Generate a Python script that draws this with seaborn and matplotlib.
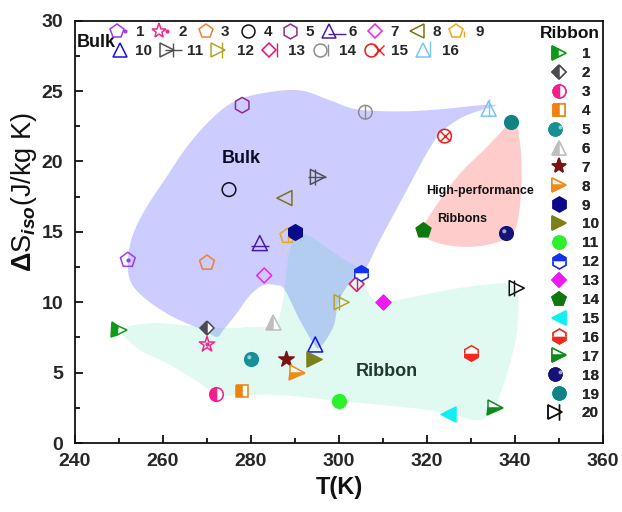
import numpy as np
import matplotlib
matplotlib.use("Agg")
import matplotlib.pyplot as plt
from matplotlib.lines import Line2D
from matplotlib.path import Path
from matplotlib.legend_handler import HandlerTuple
from matplotlib.ticker import MultipleLocator
import seaborn as sns

sns.set_theme(style="ticks")
plt.rcParams["font.family"] = ["Liberation Sans", "DejaVu Sans"]
plt.rcParams["font.weight"] = "bold"
plt.rcParams["mathtext.fontset"] = "custom"
plt.rcParams["mathtext.rm"] = "Liberation Sans:bold"
plt.rcParams["mathtext.it"] = "Liberation Sans:italic:bold"
plt.rcParams["mathtext.bf"] = "Liberation Sans:bold"

# ---------------- bulk alloys ----------------
bulk_labels = [str(i) for i in range(1, 17)]
bulk_T = [252, 270, 270, 275, 278, 282, 283, 287.6, 288.3, 294.6, 295.2, 300.6, 304, 306, 324, 334]
bulk_S = [13.0, 7.0, 12.8, 18.0, 24.0, 14.2, 11.9, 17.4, 14.7, 7.0, 18.9, 10.0, 11.3, 23.5, 21.8, 23.75]
bulk_markers = ["p", "*", "p", "o", "h", "^", "D", "<", "p", "^", ">", ">", "D", "o", "o", "^"]
bulk_colors = ["#9B3BF5", "#F0288C", "#EE8032", "#111111", "#8C2A96", "#4A1AA6", "#F020F0", "#7C7418",
               "#E8A818", "#1010F0", "#505050", "#B4A42A", "#E8106A", "#8C8C8C", "#F01818", "#78C4F4"]
bulk_inner = ["dot", "dot", None, None, None, "hbar", None, None, "stem", None,
              "cross_left", "bar_left", "vbar", "vbar", "x", "mast"]

# ---------------- melt-spun ribbons ----------------
ribbon_labels = [str(i) for i in range(1, 21)]
ribbon_T = [250, 270, 272, 278, 280, 285, 288, 290.4, 290, 294.3, 300, 305, 310, 319, 324.7, 330, 335.5, 338, 339, 340.4]
ribbon_S = [8.0, 8.2, 3.5, 3.7, 6.0, 8.6, 6.0, 5.0, 15.0, 6.0, 3.0, 12.1, 10.0, 15.1, 2.05, 6.4, 2.5, 14.9, 22.8, 11.0]
ribbon_markers = [">", "D", "o", "s", "o", "^", "*", ">", "h", ">", "o", "h", "D", "p", "<", "h", ">", "o", "o", ">"]
ribbon_fills = ["left", "left", "left", "left", "sphere", "left", "full", "bottom", "full", "full",
                "full", "top", "full", "full", "full", "bottom", "bottom", "sphere", "full", "none"]
ribbon_colors = ["#0E9A18", "#4A4A52", "#F0208C", "#F08010", "#178F94", "#BEBEBE", "#7A1414", "#F08A18",
                 "#0A0A8A", "#7C8018", "#2CF02C", "#1430F0", "#F018F0", "#0E780E", "#10F0F0", "#F02A1C",
                 "#0E8A1A", "#141478", "#108484", "#111111"]
ribbon_glints = {5: "#8FD6D6", 18: "#A49CDC"}
ribbon_inner = [None] * 19 + ["bar_left"]

# ---------------- shaded zones (outline nodes, T / dS) ----------------
bulk_zone_T = [282.8, 291.1, 297.95, 303.25, 309.3, 316.9, 324.5, 332.0, 335.8, 332.05, 327.5, 322.95,
               319.9, 315.4, 309.3, 306.3, 304.8, 301.75, 299.8, 298.7, 295.7, 294.2, 291.1, 287.7,
               285.8, 282.8, 279.8, 276.75, 273.7, 272.2, 269.2, 265.4, 260.8, 255.5, 252.5, 252.1,
               253.25, 256.3, 260.8, 265.4, 270.7, 276.0]
bulk_zone_S = [24.86, 25.05, 24.34, 23.75, 23.58, 23.58, 23.75, 23.99, 23.99, 23.63, 23.05, 21.98,
               20.56, 17.96, 14.41, 12.51, 12.04, 11.09, 9.91, 8.25, 6.81, 7.08, 8.73, 10.86,
               11.21, 11.21, 10.50, 9.21, 8.02, 7.54, 8.02, 8.50, 9.21, 10.38, 11.57, 13.22,
               14.88, 16.77, 18.90, 21.03, 22.92, 24.22]

ribbon_zone_T = [248.4, 257.0, 264.5, 268.4, 275.9, 279.8, 283.6, 285.8, 287.3, 288.2, 289.5, 291.1,
                 294.1, 300.2, 304.8, 306.4, 309.3, 316.8, 324.5, 332.05, 338.1, 340.4, 340.7, 339.5,
                 335.8, 332.05, 324.5, 316.8, 309.3, 301.75, 294.1, 286.6, 278.2, 272.2, 268.4, 260.8,
                 254.8, 250.2]
ribbon_zone_S = [8.02, 8.52, 8.37, 8.25, 8.16, 8.25, 8.25, 8.50, 10.15, 12.63, 14.41, 14.88,
                 14.55, 13.22, 12.28, 10.86, 10.03, 10.38, 10.86, 11.21, 11.33, 10.86, 8.73, 6.39,
                 2.84, 1.63, 2.13, 2.48, 2.70, 2.93, 3.19, 3.41, 3.41, 3.41, 4.26, 5.68,
                 6.60, 7.81]

hp_zone_T = [338.9, 333.6, 327.5, 322.95, 319.9, 318.4, 322.95, 329.0, 335.0, 339.5, 341.1, 341.5, 340.7, 339.5]
hp_zone_S = [22.80, 21.03, 19.14, 17.25, 15.83, 14.88, 14.17, 13.93, 14.17, 14.88, 16.77, 19.85, 22.21, 22.92]

SIZE = {"o": 9.8, "p": 11.2, "h": 11.2, "*": 11.6, "D": 7.6, "s": 8.4, "^": 10.8, ">": 10.8, "<": 10.8}


def smooth_closed(xs, ys, n=24):
    """Closed Catmull-Rom curve through the outline nodes."""
    pts = np.column_stack([xs, ys]).astype(float)
    N = len(pts)
    t = np.linspace(0, 1, n, endpoint=False)[:, None]
    out = []
    for i in range(N):
        p0, p1, p2, p3 = pts[(i - 1) % N], pts[i], pts[(i + 1) % N], pts[(i + 2) % N]
        out.append(0.5 * (2 * p1 + (-p0 + p2) * t + (2 * p0 - 5 * p1 + 4 * p2 - p3) * t ** 2
                          + (-p0 + 3 * p1 - 3 * p2 + p3) * t ** 3))
    pts = np.vstack(out)
    return pts[:, 0], pts[:, 1]


def line_path(segments, extent):
    verts, codes = [], []
    for (x0, y0), (x1, y1) in segments:
        verts += [(x0, y0), (x1, y1)]
        codes += [Path.MOVETO, Path.LINETO]
    verts += [(extent, extent), (-extent, -extent)]
    codes += [Path.MOVETO, Path.MOVETO]
    return Path(verts, codes)


_glint = Path.circle(center=(-0.32, 0.32), radius=0.3)
GLINT = Path(np.vstack([_glint.vertices, [[1, 1], [-1, -1]]]),
             np.concatenate([_glint.codes, [Path.MOVETO, Path.MOVETO]]))


def inner_style(kind, marker):
    base = SIZE[marker]
    if kind == "dot":
        return "o", 2.0, True
    if kind == "hbar":
        return line_path([((-1.25, -0.4), (1.25, -0.4))], 1.25), base * 1.25, False
    if kind == "stem":
        return line_path([((0, -0.8), (0, 0.05))], 1.0), base, False
    if kind == "cross_left":
        return line_path([((-1.35, 0), (1, 0)), ((-0.35, -1), (-0.35, 1))], 1.35), base * 1.35, False
    if kind == "bar_left":
        return line_path([((-0.4, -1.1), (-0.4, 1.1))], 1.1), base * 1.1, False
    if kind == "vbar":
        return "|", base * (1.41 if marker == "D" else 1.0), False
    if kind == "x":
        return "x", base * 0.72, False
    if kind == "mast":
        return line_path([((0, -1.0), (0, 1.3))], 1.3), base * 1.3, False
    return None


def make_lines(marker, color, fill, inner, glint, scale=1.0):
    size = SIZE[marker] * scale
    kw = dict(linestyle="none", marker=marker, markersize=size, markeredgecolor=color, mew=1.1)
    if fill in ("full", "sphere"):
        kw.update(markerfacecolor=color)
    elif fill == "none":
        kw.update(markerfacecolor="none")
    else:
        kw.update(fillstyle=fill, markerfacecolor=color, markerfacecoloralt="white")
    lines = [kw]
    if glint is not None:
        lines.append(dict(linestyle="none", marker=GLINT, markersize=size, markerfacecolor=glint,
                          markeredgecolor="none"))
    if inner is not None:
        m, s, filled = inner_style(inner, marker)
        lines.append(dict(linestyle="none", marker=m, markersize=s * scale,
                          markerfacecolor=color if filled else "none", markeredgecolor=color, mew=1.0))
    return lines


def draw_series(ax, t, s, marker, color, fill, inner, glint):
    specs = make_lines(marker, color, fill, inner, glint)
    base = specs[0]
    if fill in ("full", "none", "sphere"):
        sns.scatterplot(x=[t], y=[s], marker=marker, s=SIZE[marker] ** 2,
                        facecolor=(color if fill != "none" else "none"), edgecolor=color,
                        linewidth=1.1, ax=ax, zorder=4, legend=False)
    else:
        ax.plot([t], [s], zorder=4, **base)
    for extra in specs[1:]:
        ax.plot([t], [s], zorder=5, **extra)


def legend_handle(marker, color, fill, inner, glint):
    specs = make_lines(marker, color, fill, inner, glint, scale=0.95)
    lines = tuple(Line2D([], [], **k) for k in specs)
    return lines if len(lines) > 1 else lines[0]


fig = plt.figure(figsize=(6.22, 5.12), dpi=100)
ax = fig.add_axes([75 / 622, 1 - 443 / 512, 528 / 622, 422.3 / 512])
ax.set_facecolor("white")

# shaded zones
bx, by = smooth_closed(bulk_zone_T, bulk_zone_S)
ax.fill(bx, by, color="#CCCCFF", lw=0, zorder=1)
rx, ry = smooth_closed(ribbon_zone_T, ribbon_zone_S)
ax.fill(rx, ry, color=(5 / 255, 213 / 255, 147 / 255, 0.12), lw=0, zorder=2)
hx, hy = smooth_closed(hp_zone_T, hp_zone_S)
ax.fill(hx, hy, color="#FFCCCC", lw=0, zorder=1)

ax.text(277.7, 20.2, "Bulk", fontsize=13, fontweight="bold", color="#0B0B26", ha="center", va="center", zorder=3)
ax.text(310.8, 5.06, "Ribbon", fontsize=13, fontweight="bold", color="#1C3A2E", ha="center", va="center", zorder=3)
ax.text(332.0, 17.9, "High-performance", fontsize=9, fontweight="bold", color="#111111", ha="center", va="center", zorder=3)
ax.text(327.9, 15.92, "Ribbons", fontsize=9, fontweight="bold", color="#111111", ha="center", va="center", zorder=3)

bulk_handles = []
for i in range(len(bulk_T)):
    draw_series(ax, bulk_T[i], bulk_S[i], bulk_markers[i], bulk_colors[i], "none", bulk_inner[i], None)
    bulk_handles.append(legend_handle(bulk_markers[i], bulk_colors[i], "none", bulk_inner[i], None))

ribbon_handles = []
for i in range(len(ribbon_T)):
    g = ribbon_glints.get(i + 1)
    draw_series(ax, ribbon_T[i], ribbon_S[i], ribbon_markers[i], ribbon_colors[i], ribbon_fills[i], ribbon_inner[i], g)
    ribbon_handles.append(legend_handle(ribbon_markers[i], ribbon_colors[i], ribbon_fills[i], ribbon_inner[i], g))

# axes styling
ax.set_xlim(240, 360)
ax.set_ylim(0, 30)
ax.xaxis.set_major_locator(MultipleLocator(20))
ax.xaxis.set_minor_locator(MultipleLocator(10))
ax.yaxis.set_major_locator(MultipleLocator(5))
ax.yaxis.set_minor_locator(MultipleLocator(2.5))
ax.tick_params(which="both", direction="in", top=False, right=False, color="#111111", width=1.3)
ax.tick_params(which="major", length=6, labelsize=14)
ax.tick_params(which="minor", length=3.5)
ax.tick_params(axis="x", which="major", pad=7)
ax.tick_params(axis="y", which="major", pad=8.5)
for lab in ax.get_xticklabels() + ax.get_yticklabels():
    lab.set_fontweight("bold")
for sp in ax.spines.values():
    sp.set_color("#111111")
    sp.set_linewidth(1.3)
ax.grid(False)

ax.set_xlabel("T(K)", fontsize=17, fontweight="bold", color="#111111")
ax.set_ylabel(r"$\mathit{\Delta}$S$_{\mathit{iso}}$(J/kg K)", fontsize=19.5, color="#111111")
ax.xaxis.set_label_coords(0.5, -0.078)
ax.yaxis.set_label_coords(-0.069, 0.595)

# bulk legend: one legend per row across the top
leg_kw = dict(frameon=False, prop={"weight": "bold", "size": 11}, handlelength=1.0,
              handletextpad=0.5, borderpad=0.0, borderaxespad=0.0,
              handler_map={tuple: HandlerTuple(ndivide=None)})
row1 = list(range(0, 9))
row2 = list(range(9, 16))
leg_top = ax.legend([bulk_handles[k] for k in row1], [bulk_labels[k] for k in row1], ncol=9,
                    loc="center left", bbox_to_anchor=(0.0722, (443 - 32) / 422.3), columnspacing=0.72, **leg_kw)
ax.add_artist(leg_top)
leg_mid = ax.legend([bulk_handles[k] for k in row2], [bulk_labels[k] for k in row2], ncol=7,
                    loc="center left", bbox_to_anchor=(0.0708, (443 - 51) / 422.3), columnspacing=0.74, **leg_kw)
ax.add_artist(leg_mid)
ax.text(0.04, 0.948, "Bulk", transform=ax.transAxes, fontsize=13, fontweight="bold",
        color="#111111", ha="center", va="center")

# ribbon legend down the right edge
ax.text((570 - 75) / 528, (443 - 33) / 422.3, "Ribbon", transform=ax.transAxes, fontsize=12.5,
        fontweight="bold", color="#111111", ha="center", va="center")
leg_rib = ax.legend(ribbon_handles, ribbon_labels, ncol=1, loc="upper left",
                    bbox_to_anchor=((551 - 75) / 528, (443 - 47.5) / 422.3),
                    labelspacing=0.32, **{**leg_kw, "handletextpad": 1.0})
ax.add_artist(leg_rib)

fig.savefig("out.png", dpi=100, facecolor="white")
